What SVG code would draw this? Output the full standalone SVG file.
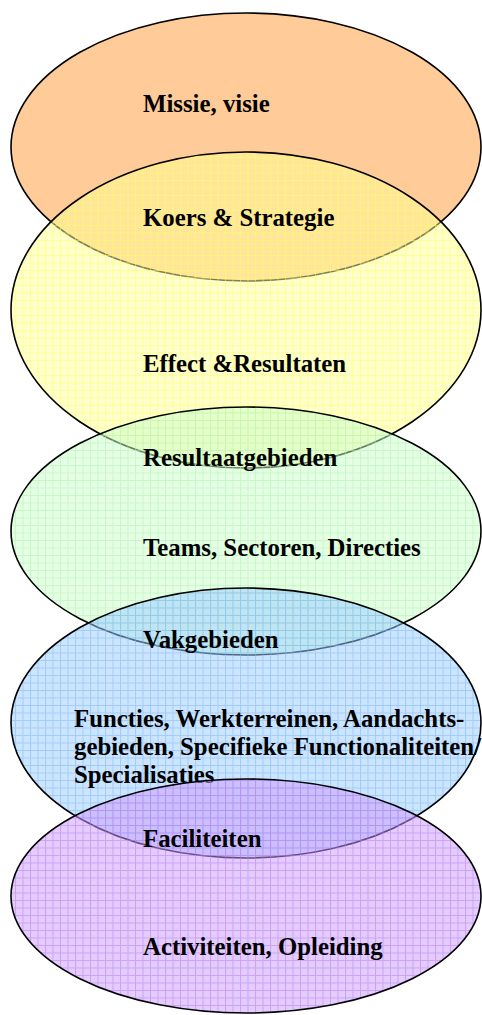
<svg xmlns="http://www.w3.org/2000/svg" width="482" height="1015" viewBox="0 0 482 1015">
<style>
.e{stroke:#000;stroke-width:1.6}
.t{font-family:"Liberation Serif","Times New Roman",serif;font-weight:bold;font-size:24.8px;fill:#000}
</style>
<defs>
<pattern id="py" patternUnits="userSpaceOnUse" width="7.5" height="7.5">
<rect width="7.5" height="7.5" fill="#ffff99" fill-opacity="0.5"/>
<path d="M0 0.5H7.5M0.5 0V7.5" stroke="#ffff66" stroke-opacity="0.5" stroke-width="1"/>
</pattern>
<pattern id="pg" patternUnits="userSpaceOnUse" width="7.5" height="7.5">
<rect width="7.5" height="7.5" fill="#ccffcc" fill-opacity="0.5"/>
<path d="M0 0.5H7.5M0.5 0V7.5" stroke="#aaf0aa" stroke-opacity="0.5" stroke-width="1"/>
</pattern>
<pattern id="pb" patternUnits="userSpaceOnUse" width="7.5" height="7.5">
<rect width="7.5" height="7.5" fill="#99ccff" fill-opacity="0.5"/>
<path d="M0 0.5H7.5M0.5 0V7.5" stroke="#77b3f5" stroke-opacity="0.5" stroke-width="1"/>
</pattern>
<pattern id="pp" patternUnits="userSpaceOnUse" width="7.5" height="7.5">
<rect width="7.5" height="7.5" fill="#cc99ff" fill-opacity="0.5"/>
<path d="M0 0.5H7.5M0.5 0V7.5" stroke="#b377f0" stroke-opacity="0.5" stroke-width="1"/>
</pattern>
</defs>
<g id="missie">
<ellipse class="e" cx="246" cy="147" rx="235" ry="134" fill="#ffcc99"/>
<text class="t" x="143" y="112">Missie, visie</text>
</g>
<g id="koers">
<ellipse class="e" cx="246" cy="310" rx="235" ry="158" fill="url(#py)"/>
<text class="t" x="143" y="226">Koers &amp; Strategie</text>
<text class="t" x="143" y="372">Effect &amp;Resultaten</text>
</g>
<g id="resultaat">
<ellipse class="e" cx="246" cy="531" rx="235" ry="124" fill="url(#pg)"/>
<text class="t" x="143" y="466">Resultaatgebieden</text>
<text class="t" x="143" y="556">Teams, Sectoren, Directies</text>
</g>
<g id="vak">
<ellipse class="e" cx="246" cy="723" rx="235" ry="135" fill="url(#pb)"/>
<text class="t" x="143" y="648">Vakgebieden</text>
<text class="t" x="74" y="727">Functies, Werkterreinen, Aandachts-</text>
<text class="t" x="74" y="755">gebieden, Specifieke Functionaliteiten/</text>
<text class="t" x="74" y="783">Specialisaties</text>
</g>
<g id="faciliteiten">
<ellipse class="e" cx="246" cy="896" rx="235" ry="117" fill="url(#pp)"/>
<text class="t" x="143" y="847">Faciliteiten</text>
<text class="t" x="143" y="955">Activiteiten, Opleiding</text>
</g>
<g id="connectors"/>
</svg>
